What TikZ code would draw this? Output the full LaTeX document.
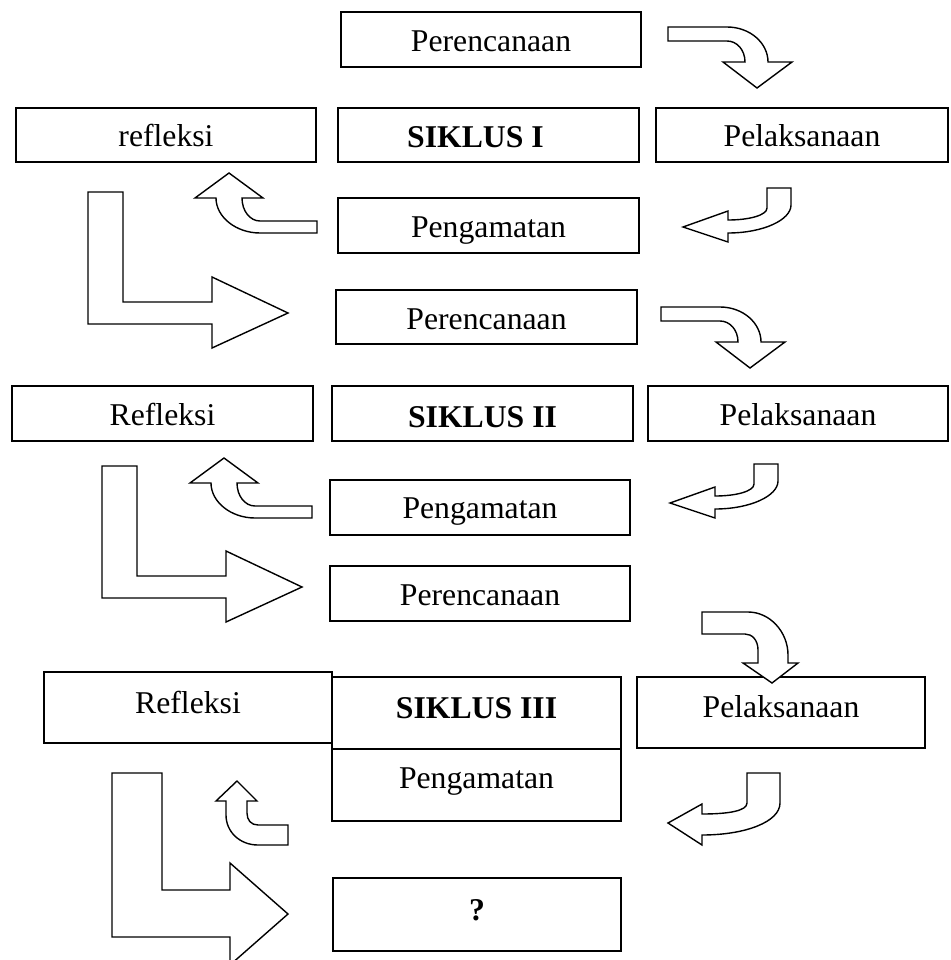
\documentclass[tikz,border=0pt]{standalone}
\usepackage{fontspec}
\setmainfont{Liberation Serif}
\begin{document}
\begin{tikzpicture}[x=1pt,y=-1pt,
  box/.style={draw, line width=1.6pt, inner sep=0pt, text depth=0pt,
    font=\fontsize{31.7pt}{36pt}\selectfont},
  barrow/.style={draw, fill=white, line width=1.4pt, line join=miter, miter limit=10}]
\useasboundingbox (0,0) rectangle (950,960);
\clip (0,0) rectangle (950,960);
% ---------- SIKLUS I ----------
\node[box, minimum width=300pt, minimum height=55pt, text height=25pt] (per1) at (491,39.5) {Perencanaan};
\node[box, minimum width=300pt, minimum height=54pt, text height=24pt] (ref1) at (166,135) {refleksi};
\node[box, minimum width=301pt, minimum height=54pt, text height=26pt] (sik1) at (488.5,135) {\hspace*{-26pt}\bfseries SIKLUS I};
\node[box, minimum width=292pt, minimum height=54pt, text height=24pt] (pel1) at (802,135) {Pelaksanaan};
\node[box, minimum width=301pt, minimum height=55pt, text height=23pt] (pen1) at (488.5,225.5) {Pengamatan};
% ---------- SIKLUS II ----------
\node[box, minimum width=301pt, minimum height=54pt, text height=24pt] (per2) at (486.5,317) {Perencanaan};
\node[box, minimum width=301pt, minimum height=55pt, text height=23pt] (ref2) at (162.5,413.5) {Refleksi};
\node[box, minimum width=301pt, minimum height=55pt, text height=27pt] (sik2) at (482.5,413.5) {\bfseries SIKLUS II};
\node[box, minimum width=300pt, minimum height=55pt, text height=23pt] (pel2) at (798,413.5) {Pelaksanaan};
\node[box, minimum width=300pt, minimum height=55pt, text height=21pt] (pen2) at (480,507.5) {Pengamatan};
% ---------- SIKLUS III ----------
\node[box, minimum width=300pt, minimum height=55pt, text height=23pt] (per3) at (480,593.5) {Perencanaan};
\node[box, minimum width=288pt, minimum height=71pt, text height=11pt] (ref3) at (188,707.5) {Refleksi};
\node[box, minimum width=289pt, minimum height=72pt, text height=10pt] (sik3) at (476.5,713) {\bfseries SIKLUS III};
\node[box, minimum width=288pt, minimum height=71pt, text height=9pt] (pel3) at (781,712.5) {Pelaksanaan};
\node[box, minimum width=289pt, minimum height=72pt, text height=6pt] (pen3) at (476.5,785) {Pengamatan};
\node[box, minimum width=288pt, minimum height=73pt, text height=11pt] (q) at (477,914.5) {\bfseries ?};
% ---------- block arrows: cycle 1 ----------
\draw[barrow] (668,27) -- (727,27) .. controls (750,27) and (768,43) .. (768,62)
  -- (792,62) -- (757,88) -- (723,62) -- (745,62)
  .. controls (745,50) and (737,41) .. (727,41) -- (668,41) -- cycle;
\draw[barrow] (767,188) -- (791,188) -- (791,205) .. controls (791,220) and (763,233) .. (728,233)
  -- (728,242) -- (683,227) -- (728,211) -- (728,220)
  .. controls (750,220) and (767,215) .. (767,208) -- cycle;
\draw[barrow] (229,173) -- (263,198) -- (242,198) .. controls (242,211) and (250,221) .. (260,221)
  -- (317,221) -- (317,233) -- (260,233) .. controls (236,233) and (216,217) .. (216,198)
  -- (195,198) -- cycle;
\draw[barrow] (88,192) -- (123,192) -- (123,302) -- (212,302) -- (212,277) -- (288,313)
  -- (212,348) -- (212,324) -- (88,324) -- cycle;
% ---------- block arrows: cycle 2 ----------
\begin{scope}[shift={(-7,280)}]
\draw[barrow] (668,27) -- (727,27) .. controls (750,27) and (768,43) .. (768,62)
  -- (792,62) -- (757,88) -- (723,62) -- (745,62)
  .. controls (745,50) and (737,41) .. (727,41) -- (668,41) -- cycle;
\end{scope}
\begin{scope}[shift={(-13,276)}]
\draw[barrow] (767,188) -- (791,188) -- (791,205) .. controls (791,220) and (763,233) .. (728,233)
  -- (728,242) -- (683,227) -- (728,211) -- (728,220)
  .. controls (750,220) and (767,215) .. (767,208) -- cycle;
\end{scope}
\begin{scope}[shift={(-5,285)}]
\draw[barrow] (229,173) -- (263,198) -- (242,198) .. controls (242,211) and (250,221) .. (260,221)
  -- (317,221) -- (317,233) -- (260,233) .. controls (236,233) and (216,217) .. (216,198)
  -- (195,198) -- cycle;
\end{scope}
\begin{scope}[shift={(14,274)}]
\draw[barrow] (88,192) -- (123,192) -- (123,302) -- (212,302) -- (212,277) -- (288,313)
  -- (212,348) -- (212,324) -- (88,324) -- cycle;
\end{scope}
% ---------- block arrows: cycle 3 ----------
\draw[barrow] (702,612) -- (748,612) .. controls (770,612) and (788,632) .. (788,655) -- (788,663)
  -- (798,663) -- (772,683) -- (743,663) -- (758,663) -- (758,650)
  .. controls (758,640) and (752,634) .. (745,634) -- (702,634) -- cycle;
\draw[barrow] (747,773) -- (780,773) -- (780,803) .. controls (780,822) and (745,835) .. (702,835)
  -- (702,845) -- (668,823) -- (702,804) -- (702,814)
  .. controls (728,814) and (747,811) .. (747,803) -- cycle;
\draw[barrow] (237,781) -- (257,801) -- (247,801) -- (247,813) .. controls (247,820) and (251,825) .. (258,825)
  -- (288,825) -- (288,845) -- (258,845) .. controls (240,845) and (226,832) .. (226,815)
  -- (226,801) -- (216,801) -- cycle;
\draw[barrow] (112,773) -- (162,773) -- (162,890) -- (230,890) -- (230,863) -- (288,914)
  -- (230,965) -- (230,937) -- (112,937) -- cycle;
\end{tikzpicture}
\end{document}
